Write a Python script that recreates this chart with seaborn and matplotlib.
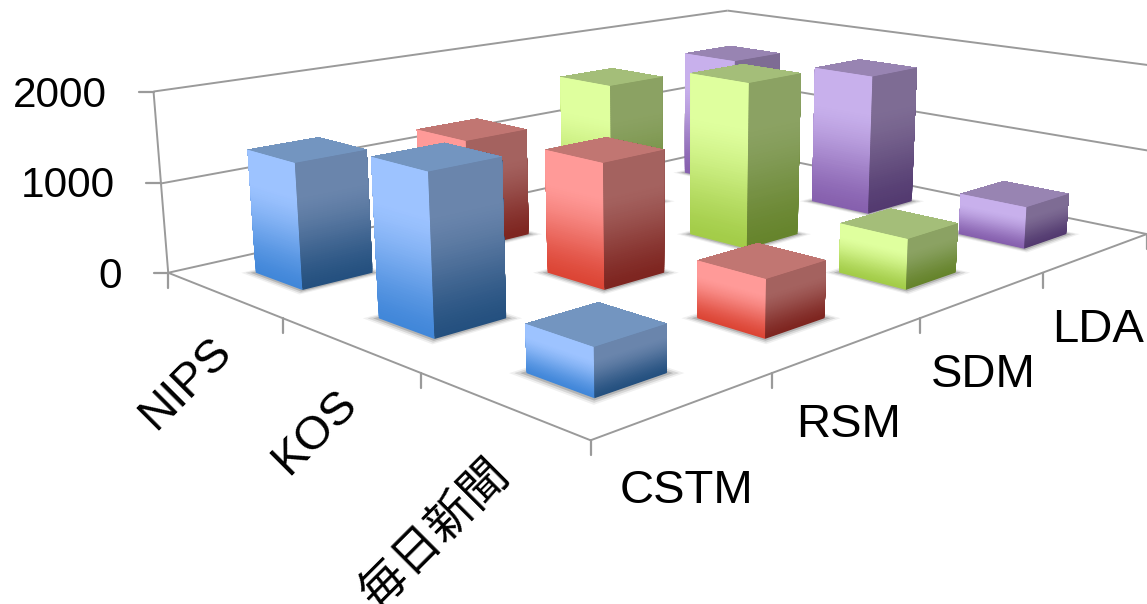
import numpy as np
import matplotlib
matplotlib.use("Agg")
import matplotlib.pyplot as plt
from matplotlib.lines import Line2D
from matplotlib.transforms import IdentityTransform
from mpl_toolkits.mplot3d import proj3d
from mpl_toolkits.mplot3d.art3d import Line3DCollection
import seaborn as sns

# --- data ---
models = ["CSTM", "RSM", "SDM", "LDA"]
datasets = ["毎日新聞", "KOS", "NIPS"]
cstm = [470, 1650, 1370]
rsm = [600, 1370, 1260]
sdm = [555, 1920, 1600]
lda = [490, 1715, 1640]
z_ticks = [0, 1000, 2000]

# colours: left-top, left-bottom, right-top, right-bottom, top
styles = [
    ("#9DC3FF", "#4187D9", "#6A85AC", "#24507F", "#7395C0"),
    ("#FF9A98", "#DC4535", "#A4625F", "#7E2520", "#C17672"),
    ("#DFFF9E", "#A3CC48", "#8BA263", "#66842C", "#A4BE79"),
    ("#C8B0EC", "#8660AE", "#7E6C94", "#533A70", "#9884B2"),
]

# camera calibration of the oblique view: (x, y, z/1000) -> picture pixel
cal_world = [(0,3,0),(0,2,0),(0,1,0),(0,0,0),(1,0,0),(2,0,0),(3,0,0),(4,0,0),(4,3,0),
             (0,3,1),(0,3,2),(4,3,1),(4,3,2),(4,0,2)]
cal_pixel = [(167.6,272.3),(283.2,317.3),(422,374),(591,440),(771,374),(920,318.3),
             (1043.5,272.3),(1146,234),(727,148),(160.7,183.3),(154,92),(727,80),
             (727,10.7),(1160,66)]

W, H = 1147, 604
sns.set_theme(style="white")
plt.rcParams['font.family'] = ['Liberation Sans', 'Noto Sans CJK JP', 'DejaVu Sans']

fig = plt.figure(figsize=(W/100, H/100), dpi=100)
ax = fig.add_axes([0, (H-W)/2/H, 1, W/H], projection="3d", computed_zorder=False)
ax.set_axis_off()
ax.patch.set_alpha(0)
ax.set_xlim(0, 4); ax.set_ylim(0, 3); ax.set_zlim(0, 2000)
ax.apply_aspect()

# fit projection
inv = ax.transData.inverted()
A = []
for (X, Y, Z), (px, py) in zip(cal_world, cal_pixel):
    u, v = inv.transform((px, H - py))
    A.append([X, Y, Z, 1, 0, 0, 0, 0, -u*X, -u*Y, -u*Z, -u])
    A.append([0, 0, 0, 0, X, Y, Z, 1, -v*X, -v*Y, -v*Z, -v])
P = np.linalg.svd(np.array(A))[2][-1].reshape(3, 4)
if P[2, 3] < 0:
    P = -P
P = P / P[2, 3]
P[:, 2] /= 1000.0
M = np.array([P[0], P[1], [0.2, 0.2, -1e-4, 1.0], P[2]])
ax.get_proj = lambda: M
ax.M = M

def to_px(x, y, z):
    xp, yp, _ = proj3d.proj_transform(np.array([x], float), np.array([y], float), np.array([z], float), M)
    return ax.transData.transform((xp[0], yp[0]))

# frame
segs = []
for z in z_ticks:
    segs.append([(0, 3, z), (4, 3, z)])
    segs.append([(4, 3, z), (4, 0, z)])
segs.append([(0, 3, 0), (0, 3, 2000)])
segs.append([(0, 3, 0), (0, 0, 0)])
segs.append([(0, 0, 0), (4, 0, 0)])
frame = Line3DCollection(segs, colors="#9a9a9a", linewidths=1.4, zorder=1)
ax.add_collection3d(frame)

# ticks (short marks in pixel units)
def mark(p0, dx, dy):
    fig.add_artist(Line2D([p0[0], p0[0]+dx], [p0[1], p0[1]+dy], transform=IdentityTransform(),
                          color="#9a9a9a", lw=1.6, zorder=1))
for z in z_ticks:
    mark(to_px(0, 3, z), -14.5, 0)
for y in range(4):
    mark(to_px(0, y, 0), 0, -15)
for x in range(1, 5):
    mark(to_px(x, 0, 0), 0, -15)

# bars
w = 0.40
NONE = (0, 0, 0, 0)
N = 64
RAMP = 256
series = [cstm, rsm, sdm, lda]
cells = sorted([(i, j) for i in range(4) for j in range(3)], key=lambda c: -(c[0] + c[1]))

def shade_at(palette, k):
    t = min(k / (N * 0.72), 1.0)
    t = t * t * (3 - 2 * t) * 0.5 + t * 0.5
    return palette[int(round(t * (RAMP - 1)))]

for rank, (i, j) in enumerate(cells):
    x0, y0 = i + (1 - w)/2, j + (1 - w)/2
    h = series[i][j]
    lt, lb, rt, rb, top = styles[i]
    left = sns.blend_palette([lb, lt], RAMP)
    right = sns.blend_palette([rb, rt], RAMP)
    base = 10 + rank*3
    for m, a in [(0.05, 0.06), (0.035, 0.10), (0.018, 0.16)]:
        ax.bar3d(x0 - m, y0 - m, 0, w + 2*m, w + 2*m, 0, shade=False,
                 color=[NONE, (0, 0, 0, a), NONE, NONE, NONE, NONE], zorder=base, linewidth=0)
    for k in range(N):
        z0 = h * k / N
        ax.bar3d(x0, y0, z0, w, w, h - z0, shade=False,
                 color=[NONE, top, shade_at(right, k), NONE, shade_at(left, k), NONE],
                 zorder=base + 1 + k/N, linewidth=0)
ax.set_xlim(0, 4); ax.set_ylim(0, 3); ax.set_zlim(0, 2000)

def label(px, py, s, size, rot=0, ha="center"):
    fig.text(px/W, 1 - py/H, s, fontsize=size, rotation=rot, ha=ha, va="center",
             rotation_mode="anchor", color="black")

for z, xr, yc in zip(z_ticks, [122, 115, 107], [277, 186, 96]):
    label(xr, yc, str(z), 30.5, ha="right")
for s, cx, cy in zip(models, [686, 849, 983, 1098], [491, 425, 375, 330]):
    label(cx, cy, s, 34)
for s, cx, cy in zip(datasets, [435, 315, 186], [535, 432, 384]):
    label(cx, cy, s, 34, rot=45)

fig.savefig("out.png", dpi=100)
